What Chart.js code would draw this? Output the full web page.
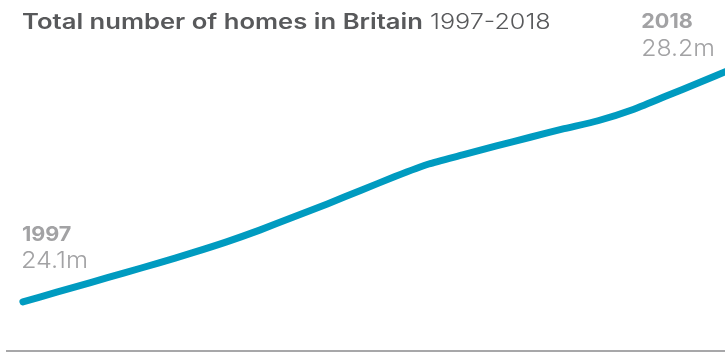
<!DOCTYPE html>
<html>
<head>
<meta charset="utf-8">
<script src="https://cdn.jsdelivr.net/npm/chart.js@4"></script>
<style>
  html, body { margin: 0; padding: 0; background: #fff; overflow: hidden; }
  #wrap { width: 740px; height: 354px; }
</style>
</head>
<body>
<div id="wrap"><canvas id="c" width="740" height="354"></canvas></div>
<script>
// Total housing stock in Britain, millions of homes
const years = [1997, 1998, 1999, 2000, 2001, 2002, 2003, 2004, 2005, 2006, 2007,
               2008, 2009, 2010, 2011, 2012, 2013, 2014, 2015, 2016, 2017, 2018];
const homes = [24.1, 24.27, 24.44, 24.61, 24.78, 24.96, 25.15, 25.36, 25.59, 25.82, 26.06,
               26.30, 26.52, 26.68, 26.84, 26.99, 27.14, 27.28, 27.47, 27.71, 27.95, 28.2];
const titleBold = 'Total number of homes in Britain';
const titleLight = ' 1997-2018';

const FONT = 'Inter, "Open Sans", sans-serif';

// draw text stretched horizontally to give the wide geometric look
function wideText(ctx, text, x, y, sx) {
  ctx.save();
  ctx.translate(x, y);
  ctx.scale(sx, 1);
  ctx.fillText(text, 0, 0);
  const w = ctx.measureText(text).width * sx;
  ctx.restore();
  return w;
}

const annotations = {
  id: 'annotations',
  afterDraw(chart) {
    const ctx = chart.ctx;
    const area = chart.chartArea;
    ctx.save();
    // baseline
    ctx.strokeStyle = '#a7a7a9';
    ctx.lineWidth = 2;
    ctx.beginPath();
    ctx.moveTo(area.left, area.bottom - 1);
    ctx.lineTo(area.right, area.bottom - 1);
    ctx.stroke();

    // title
    ctx.textBaseline = 'alphabetic';
    ctx.textAlign = 'left';
    ctx.fillStyle = '#58595b';
    ctx.font = '600 21px ' + FONT;
    const wb = wideText(ctx, titleBold, 22, 29, 1.22);
    ctx.font = '300 21px ' + FONT;
    wideText(ctx, titleLight, 22 + wb, 29, 1.2);

    // start / end labels
    const xs = chart.scales.x, ys = chart.scales.y;
    const first = 0, last = years.length - 1;
    const x0 = xs.getPixelForValue(years[first]);
    const y0 = ys.getPixelForValue(homes[first]);
    ctx.fillStyle = '#a2a2a4';
    ctx.font = '700 20px ' + FONT;
    wideText(ctx, String(years[first]), x0 - 1, y0 - 61, 1.08);
    ctx.font = '300 23px ' + FONT;
    wideText(ctx, homes[first].toFixed(1) + 'm', x0 - 2, y0 - 34, 1.1);

    const x1 = xs.getPixelForValue(years[last]);
    const y1 = ys.getPixelForValue(homes[last]);
    ctx.font = '700 20px ' + FONT;
    wideText(ctx, String(years[last]), x1 - 92, y1 - 40, 1.08);
    ctx.font = '300 23px ' + FONT;
    wideText(ctx, homes[last].toFixed(1) + 'm', x1 - 92, y1 - 12, 1.08);
    ctx.restore();
  }
};

new Chart(document.getElementById('c'), {
  type: 'line',
  data: {
    datasets: [{
      data: years.map((y, i) => ({ x: y, y: homes[i] })),
      borderColor: '#009bc0',
      borderWidth: 7,
      borderCapStyle: 'round',
      borderJoinStyle: 'round',
      pointRadius: 0,
      tension: 0.2,
      clip: false,
      fill: false
    }]
  },
  options: {
    responsive: false,
    animation: false,
    devicePixelRatio: 1,
    layout: { padding: { left: 6, right: 0, top: 0, bottom: 2 } },
    plugins: { legend: { display: false }, tooltip: { enabled: false } },
    scales: {
      x: { type: 'linear', display: false, min: 1996.5, max: 2018.2 },
      y: { display: false, min: 23.22, max: 29.4 }
    }
  },
  plugins: [annotations]
});
</script>
</body>
</html>
